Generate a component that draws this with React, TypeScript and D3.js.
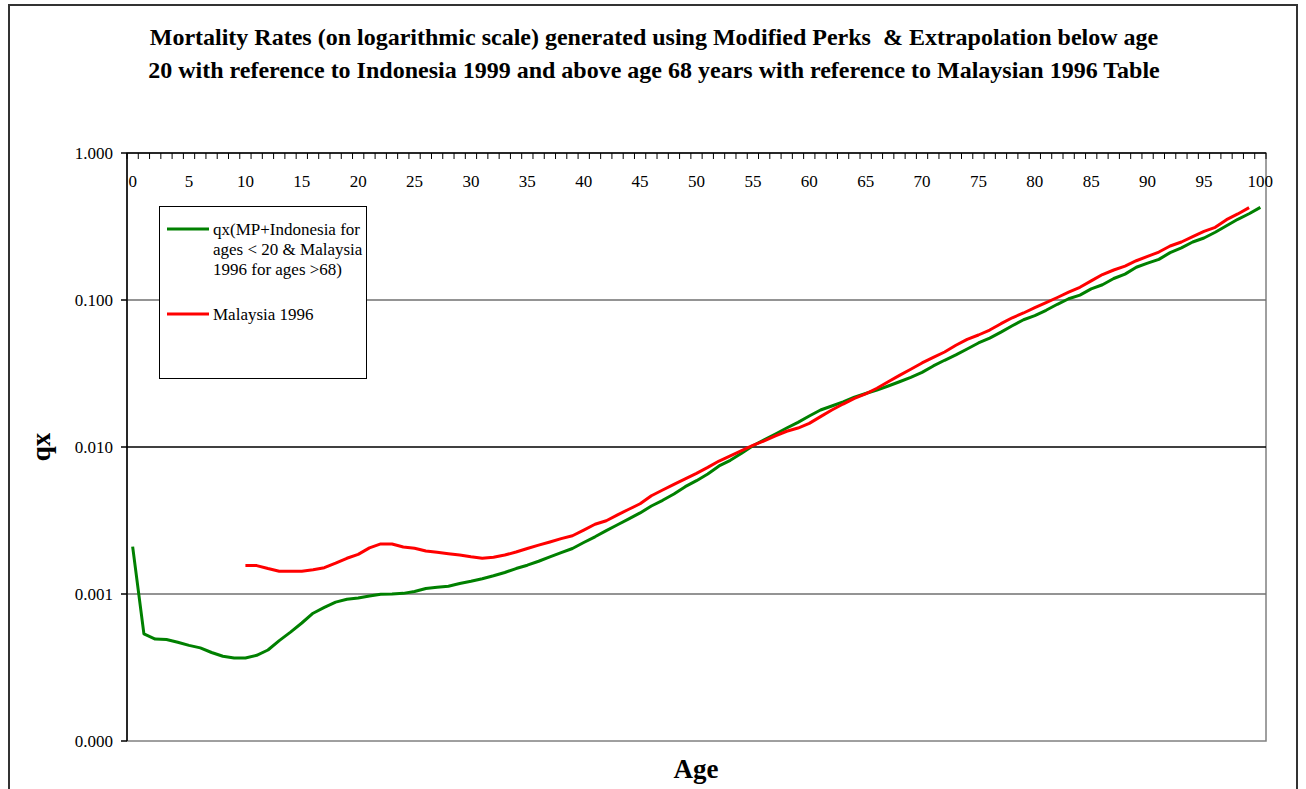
import React from "react";
import * as d3 from "d3";

const ages: number[] = d3.range(0, 101);

const qxModel: number[] = [
  0.0021, 0.000535, 0.000494, 0.00049, 0.00047, 0.000447, 0.00043, 0.0004, 0.000377, 0.000367,
  0.000367, 0.000383, 0.000416, 0.000482, 0.00055, 0.000635, 0.00074, 0.00081, 0.00088, 0.00092,
  0.00094, 0.00097, 0.000995, 0.001, 0.00101, 0.00104, 0.00109, 0.00111, 0.00113, 0.00118,
  0.00122, 0.00127, 0.00133, 0.0014, 0.00149, 0.00157, 0.00167, 0.00179, 0.00191, 0.00204,
  0.00224, 0.00245, 0.0027, 0.00296, 0.00324, 0.00356, 0.00397, 0.00434, 0.00479, 0.00537,
  0.0059, 0.00655, 0.00743, 0.00812, 0.00906, 0.0102, 0.0112, 0.01226, 0.01346, 0.01472,
  0.01625, 0.01786, 0.019, 0.0203, 0.0218, 0.0231, 0.0244, 0.026, 0.0278, 0.0298,
  0.0322, 0.0356, 0.0389, 0.0423, 0.0464, 0.051, 0.0551, 0.0605, 0.0668, 0.0734,
  0.0782, 0.0851, 0.0935, 0.102, 0.108, 0.119, 0.127, 0.14, 0.15, 0.167,
  0.178, 0.189, 0.21, 0.226, 0.248, 0.264, 0.289, 0.32, 0.354, 0.386,
  0.427,
];

const malaysiaStartAge = 10;
const qxMalaysia: number[] = [
  0.00156, 0.00156, 0.00149, 0.00143, 0.00143, 0.00143, 0.00146, 0.00151, 0.00162, 0.00175,
  0.00186, 0.00206, 0.00219, 0.00219, 0.00209, 0.00205, 0.00196, 0.00192, 0.00188, 0.00184,
  0.00179, 0.00175, 0.00178, 0.00184, 0.00193, 0.00204, 0.00215, 0.00226, 0.00238, 0.00249,
  0.00272, 0.00298, 0.00315, 0.00345, 0.00377, 0.00411, 0.00466, 0.0051, 0.00557, 0.00606,
  0.00662, 0.00727, 0.00803, 0.00869, 0.00944, 0.01026, 0.011, 0.0119, 0.0128, 0.01346,
  0.01448, 0.0161, 0.01786, 0.0196, 0.0214, 0.023, 0.0251, 0.0278, 0.0307, 0.0338,
  0.0373, 0.0407, 0.0443, 0.0492, 0.054, 0.0578, 0.0625, 0.069, 0.0757, 0.0816,
  0.0887, 0.0959, 0.104, 0.113, 0.122, 0.135, 0.149, 0.16, 0.17, 0.185,
  0.198, 0.212, 0.233, 0.248, 0.27, 0.293, 0.312, 0.352, 0.385, 0.425,
];

const yTicks: number[] = [1, 0.1, 0.01, 0.001, 0.0001];
const yTickLabels: string[] = ["1.000", "0.100", "0.010", "0.001", "0.000"];
const xLabelAges: number[] = d3.range(0, 101, 5);

const titleLines: string[] = [
  "Mortality Rates (on logarithmic scale) generated using Modified Perks  & Extrapolation below age",
  "20 with reference to Indonesia 1999 and above age 68 years with reference to Malaysian 1996 Table",
];
const legendModel: string[] = ["qx(MP+Indonesia for", "ages < 20 & Malaysia", "1996 for ages >68)"];
const legendMalaysia = "Malaysia 1996";

const W = 1306;
const H = 789;
const L = 127;
const R = 1266;
const T = 153;
const B = 741;
const FONT = "'Liberation Serif', 'Times New Roman', serif";

export default function App() {
  const x = d3.scalePoint<number>().domain(ages).range([L, R]).padding(0.5);
  const step = x.step();
  const y = d3.scaleLog().domain([0.0001, 1]).range([B, T]);

  const line = d3
    .line<[number, number]>()
    .x((d) => x(d[0]) as number)
    .y((d) => y(d[1]));

  const modelPts: [number, number][] = qxModel.map((v, i) => [ages[i], v]);
  const malPts: [number, number][] = qxMalaysia.map((v, i) => [malaysiaStartAge + i, v]);

  const boundaries = d3.range(0, ages.length + 1).map((k) => L + k * step);

  return (
    <svg
      width={W}
      height={H}
      style={{ position: "absolute", left: 0, top: 0, background: "#fff" }}
      fontFamily={FONT}
    >
      <rect x={0} y={0} width={W} height={H} fill="#fff" />
      <rect x={9} y={5} width={1288} height={820} fill="none" stroke="#333" strokeWidth={2} />

      {/* title */}
      {titleLines.map((t, i) => (
        <text
          key={i}
          x={654}
          y={45 + i * 33}
          textAnchor="middle"
          fontWeight="bold"
          fontSize={24}
          fill="#000"
          xmlSpace="preserve"
          style={{ whiteSpace: "pre" }}
        >
          {t}
        </text>
      ))}

      {/* plot border */}
      <rect x={L} y={T} width={R - L} height={B - T} fill="none" stroke="#808080" strokeWidth={1.5} />

      {/* gridlines */}
      {yTicks.slice(1, 4).map((v, i) => (
        <line key={i} x1={L} x2={R} y1={y(v)} y2={y(v)} stroke={i === 1 ? "#000" : "#707070"} strokeWidth={1.5} />
      ))}

      {/* y axis */}
      <line x1={L} x2={L} y1={T} y2={B} stroke="#000" strokeWidth={1.5} />
      {yTicks.map((v, i) => (
        <g key={i}>
          <line x1={L - 6} x2={L} y1={y(v)} y2={y(v)} stroke="#000" strokeWidth={1.5} />
          <text x={113} y={y(v)} dy="0.35em" textAnchor="end" fontSize={17} fill="#000">
            {yTickLabels[i]}
          </text>
        </g>
      ))}

      {/* x axis at top */}
      <line x1={L} x2={R} y1={T} y2={T} stroke="#000" strokeWidth={1.5} />
      {boundaries.map((bx, i) => (
        <line key={i} x1={bx} x2={bx} y1={T} y2={T + 6} stroke="#000" strokeWidth={1} />
      ))}
      {xLabelAges.map((a) => (
        <text key={a} x={x(a) as number} y={187} textAnchor="middle" fontSize={17} fill="#000">
          {a}
        </text>
      ))}

      {/* series */}
      <path d={line(modelPts) || ""} fill="none" stroke="#008000" strokeWidth={3} strokeLinejoin="round" />
      <path d={line(malPts) || ""} fill="none" stroke="#FF0000" strokeWidth={3} strokeLinejoin="round" />

      {/* legend */}
      <rect x={159.5} y={206.5} width={207} height={172} fill="#fff" stroke="#000" strokeWidth={1} />
      <line x1={167} x2={209} y1={229} y2={229} stroke="#008000" strokeWidth={3} />
      {legendModel.map((t, i) => (
        <text key={i} x={213} y={229 + i * 20} dy="0.35em" fontSize={17} fill="#000">
          {t}
        </text>
      ))}
      <line x1={167} x2={209} y1={314} y2={314} stroke="#FF0000" strokeWidth={3} />
      <text x={213} y={314} dy="0.35em" fontSize={17} fill="#000">
        {legendMalaysia}
      </text>

      {/* axis titles */}
      <text x={696} y={778} textAnchor="middle" fontWeight="bold" fontSize={27} fill="#000">
        Age
      </text>
      <text
        transform={`translate(50,447) rotate(-90)`}
        textAnchor="middle"
        fontWeight="bold"
        fontSize={27}
        fill="#000"
      >
        qx
      </text>
    </svg>
  );
}
